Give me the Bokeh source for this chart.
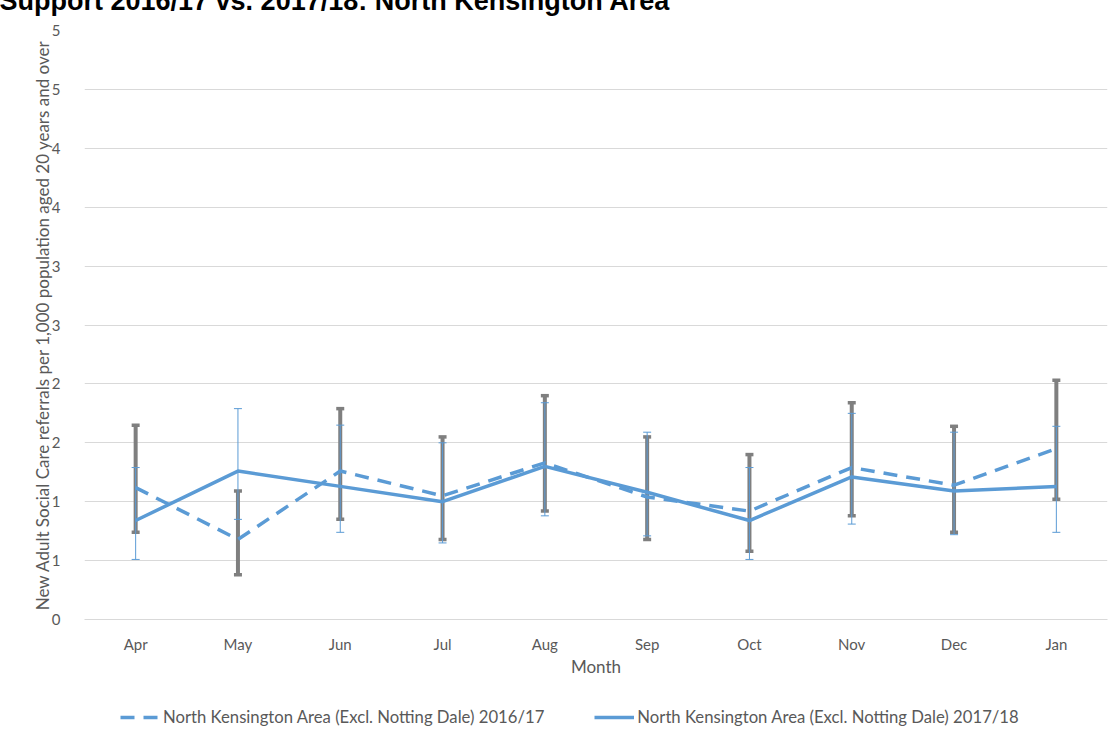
import numpy as np
from bokeh.plotting import figure
from bokeh.layouts import column
from bokeh.models import (ColumnDataSource, Whisker, TeeHead, FixedTicker,
                          CustomJSTickFormatter, Legend, LegendItem, Title, Range1d)
from bokeh.embed import file_html
from bokeh.resources import INLINE

# ---- data -------------------------------------------------------------
months = ["Apr", "May", "Jun", "Jul", "Aug", "Sep", "Oct", "Nov", "Dec", "Jan"]
rate_1617 = [1.12, 0.68, 1.26, 1.05, 1.33, 1.04, 0.92, 1.29, 1.14, 1.45]
rate_1718 = [0.84, 1.26, 1.13, 1.00, 1.30, 1.08, 0.84, 1.21, 1.09, 1.13]
lo_1617 = [0.74, 0.38, 0.85, 0.68, 0.92, 0.68, 0.58, 0.88, 0.74, 1.02]
hi_1617 = [1.65, 1.09, 1.79, 1.55, 1.90, 1.55, 1.40, 1.84, 1.64, 2.03]
lo_1718 = [0.51, 0.85, 0.74, 0.65, 0.88, 0.71, 0.51, 0.81, 0.72, 0.74]
hi_1718 = [1.29, 1.79, 1.65, 1.50, 1.84, 1.59, 1.29, 1.75, 1.59, 1.64]
y_ticks = [0, 0.5, 1, 1.5, 2, 2.5, 3, 3.5, 4, 4.5, 5]
series_names = ["North Kensington Area (Excl. Notting Dale) 2016/17",
                "North Kensington Area (Excl. Notting Dale) 2017/18"]
title_text = "Support 2016/17 vs. 2017/18: North Kensington Area"
x_title = "Month"
y_title = "New Adult Social Care referrals per 1,000 population aged 20 years and over"

BLUE = "#5b9bd5"
GREY = "#7f7f7f"
TXT = "#595959"
FONT = "Lato"
DASH = "14 9"
BORDER = "#d9d9d9"

src = ColumnDataSource(dict(month=months, r1=rate_1617, r2=rate_1718,
                            lo1=lo_1617, hi1=hi_1617, lo2=lo_1718, hi2=hi_1718))

p = figure(x_range=months, y_range=Range1d(0, 5), width=1109, height=711,
           output_backend="svg", toolbar_location=None,
           min_border_left=84, min_border_right=2, min_border_top=62,
           min_border_bottom=10)
p.outline_line_color = None
p.background_fill_color = "white"
p.border_fill_color = "white"

t = Title(text=title_text, text_font="Liberation Sans", text_font_style="bold",
          text_font_size="27px", align="left", offset=-85, text_color="black",
          standoff=29)
p.add_layout(t, "above")

# lines
l1 = p.line("month", "r1", source=src, line_color=BLUE, line_width=3.5,
            line_dash=DASH)
l2 = p.line("month", "r2", source=src, line_color=BLUE, line_width=3.5)

# error bars
w1 = Whisker(base="month", lower="lo1", upper="hi1", source=src,
             line_color=GREY, line_width=4,
             upper_head=TeeHead(size=8, line_color=GREY, line_width=3.5),
             lower_head=TeeHead(size=8, line_color=GREY, line_width=3.5))
w2 = Whisker(base="month", lower="lo2", upper="hi2", source=src,
             line_color=BLUE, line_width=1,
             upper_head=TeeHead(size=8, line_color=BLUE, line_width=1),
             lower_head=TeeHead(size=8, line_color=BLUE, line_width=1))
p.add_layout(w1)
p.add_layout(w2)

# axes
p.yaxis.ticker = FixedTicker(ticks=y_ticks)
p.yaxis.formatter = CustomJSTickFormatter(code="return Math.round(tick).toString();")
p.yaxis.axis_line_color = None
p.yaxis.major_tick_line_color = None
p.yaxis.minor_tick_line_color = None
p.yaxis.major_label_text_font = FONT
p.yaxis.major_label_text_font_size = "15px"
p.yaxis.major_label_text_color = TXT
p.yaxis.major_label_standoff = 18
p.yaxis.axis_label = y_title
p.yaxis.axis_label_text_font = FONT
p.yaxis.axis_label_text_font_size = "17px"
p.yaxis.axis_label_text_font_style = "normal"
p.yaxis.axis_label_text_color = TXT
p.yaxis.axis_label_standoff = -4

p.xaxis.axis_line_color = BORDER
p.xaxis.major_tick_line_color = None
p.xaxis.minor_tick_line_color = None
p.xaxis.major_label_text_font = FONT
p.xaxis.major_label_text_font_size = "15px"
p.xaxis.major_label_text_color = TXT
p.xaxis.major_label_standoff = 9
p.xaxis.axis_label = x_title
p.xaxis.axis_label_text_font = FONT
p.xaxis.axis_label_text_font_size = "17px"
p.xaxis.axis_label_text_font_style = "normal"
p.xaxis.axis_label_text_color = TXT
p.xaxis.axis_label_standoff = 0

p.xgrid.grid_line_color = None
p.ygrid.grid_line_color = BORDER
p.ygrid.grid_line_width = 1

# legend strip below the chart (series drawn out of view, only the legend shows)
q = figure(x_range=months, y_range=Range1d(10, 11), width=1109, height=55,
           output_backend="svg", toolbar_location=None,
           x_axis_location=None, y_axis_location=None,
           min_border=0, min_border_left=0, min_border_right=0,
           min_border_top=0, min_border_bottom=0)
q.grid.visible = False
q.outline_line_color = None
e1 = q.line("month", "r1", source=src, line_color=BLUE, line_width=3.5, line_dash=DASH)
e2 = q.line("month", "r2", source=src, line_color=BLUE, line_width=3.5)
legend = Legend(items=[LegendItem(label=series_names[0], renderers=[e1]),
                       LegendItem(label=series_names[1], renderers=[e2])],
                orientation="horizontal", location=(36, 7),
                label_text_font=FONT, label_text_font_size="16.7px",
                label_text_color=TXT, glyph_width=40, label_standoff=3,
                spacing=50, border_line_color=None, background_fill_alpha=0,
                margin=0, padding=4)
q.add_layout(legend, "center")

layout = column(p, q, spacing=0, styles={"margin-top": "-32px"})

open("out.html", "w").write(file_html(layout, INLINE))
